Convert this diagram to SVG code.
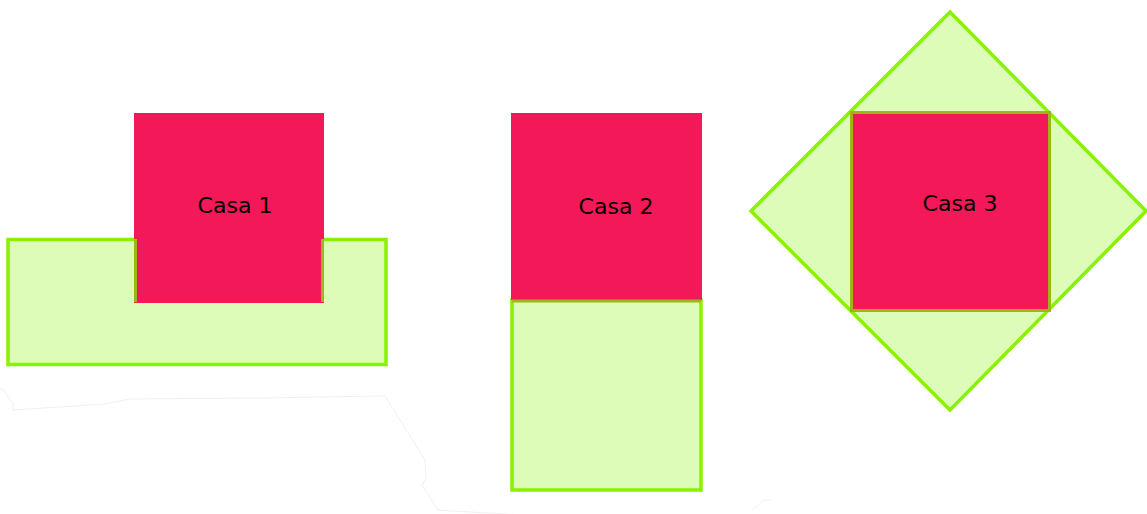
<svg xmlns="http://www.w3.org/2000/svg" width="1147" height="514" viewBox="0 0 1147 514">
<style>
.g{fill:#dcfcb8;stroke:#88f200;stroke-width:3.5}
.r{fill:#f31857}
.ol{stroke:#9eb41a;stroke-width:3;fill:none}
.t{font-family:"DejaVu Sans","Liberation Sans",sans-serif;font-size:22px;fill:#000;text-anchor:middle}
.faint{fill:none;stroke:#f0f0f0;stroke-width:1}
</style>
<rect width="1147" height="514" fill="#fff"/>
<path class="faint" d="M0 389 L3 389 L13 404 L13 410 L105 404 L130 399 L260 398 L385 396 L425 460 L426 478 L422 485 L438 510 L470 512 L525 515 M752 510 L764 500 L773 500"/>
<g id="casa1">
<rect class="g" x="8" y="239.5" width="378" height="125"/>
<rect class="r" x="134" y="113" width="190" height="190"/>
<line class="ol" x1="135.5" y1="239" x2="135.5" y2="302"/>
<line class="ol" x1="322.5" y1="239" x2="322.5" y2="302"/>
<text class="t" x="235" y="213">Casa 1</text>
</g>
<g id="casa2">
<rect class="g" x="512" y="300" width="189" height="190"/>
<rect class="r" x="511" y="113" width="191" height="187"/>
<line class="ol" x1="512" y1="301" x2="701" y2="301"/>
<text class="t" x="616" y="214">Casa 2</text>
</g>
<g id="casa3">
<polygon class="g" points="950,12 1146,211 950,410 751,211"/>
<rect class="r" x="851.5" y="112.5" width="198" height="198" stroke="#9eb41a" stroke-width="3"/>
<text class="t" x="960" y="211">Casa 3</text>
</g>
</svg>
